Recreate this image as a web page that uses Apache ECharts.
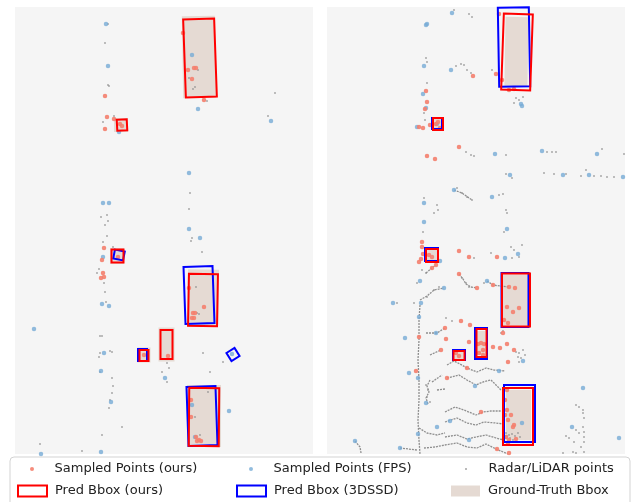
<!DOCTYPE html>
<html>
<head>
<meta charset="utf-8">
<script src="https://cdn.jsdelivr.net/npm/echarts@6/dist/echarts.min.js"></script>
<style>
  html, body { margin: 0; padding: 0; background: #fff; }
  #chart { width: 634px; height: 502px; }
</style>
</head>
<body>
<div id="chart"></div>
<script>
// all positions are in picture pixels of each panel (x to the right, y downwards)

// ---- left panel ----
const leftOurs = [[183,33],[188,70],[194,68],[196,68],[192,79],[204,100],[105,96],[107,117],[114,119],[105,129],[120,124],[122,126],
  [104,248],[102,260],[103,273],[104,277],[101,278],[118,257],[189,288],[204,307],[193,313],[195,313],[192,318],[194,318],
  [144,355],[168,356],[191,400],[191,417],[196,437],[199,440],[197,441],[201,441]]
const leftFps = [[106,24],[108,66],[192,55],[198,109],[271,121],[119,132],[103,203],[109,203],[189,173],[189,229],[200,238],
  [103,257],[102,304],[109,306],[34,329],[104,353],[101,371],[165,378],[111,402],[192,405],[229,411],[232,354],[195,437],
  [41,454],[101,452]]
const leftRaw = [[108,24],[105,43],[108,85],[109,86],[189,78],[193,89],[195,87],[198,70],[275,93],[268,116],[103,122],[114,116],
  [207,101],[101,217],[107,215],[108,221],[105,225],[107,236],[103,242],[113,247],[99,269],[97,273],[104,283],[105,292],
  [106,302],[190,193],[189,209],[192,238],[202,252],[196,287],[191,241],[100,336],[102,336],[100,353],[99,357],[110,351],
  [112,352],[100,372],[112,378],[113,386],[112,393],[110,400],[109,408],[122,427],[102,435],[40,444],[82,451],[203,353],
  [210,372],[223,362],[167,363],[169,368],[162,372],[167,382],[195,417],[200,435],[208,392],[197,313],[199,314]]
// boxes: [cx, cy, width, height, angle in degrees]
const leftGt = [[199,57,33,82,-1],[121,125,14,14,0],[117,256,14,16,0],[203,298,31,57,1],[144,355,13,15,0],
  [166.5,344.5,16,34,0],[204,416,34,62,0]]
const leftPredOurs = [[200,58,31,78,-2],[122,125,10,11,-3],[117.5,256,12,13,0],[203,300,29,52,1],[144,355.5,9,11,0],
  [166.5,344.5,12,29,0],[204,417,30,58,0.5]]
const leftPred3dssd = [[119,255,10,9,11],[199,295,29,57,-2],[142.5,355,9,12,0],[233,354.5,9.5,9.5,-32],[202,416,29,59,-2]]

// ---- right panel ----
const rightOurs = [[499,14],[473,76],[496,74],[502,80],[509,90],[514,89],[426,91],[427,102],[425,109],[419,127],[423,128],
  [430,125],[438,122],[440,128],[436,124],[459,147],[427,156],[435,159],[422,242],[422,247],[423,254],[421,259],[419,262],
  [436,265],[432,268],[429,255],[432,257],[459,251],[469,257],[497,257],[459,274],[477,288],[493,285],[509,287],[515,288],
  [507,307],[519,308],[513,312],[504,320],[508,323],[503,333],[461,321],[470,325],[445,328],[419,337],[446,339],[469,342],
  [441,350],[467,368],[447,378],[416,371],[456,353],[459,356],[481,343],[478,344],[484,344],[483,350],[479,353],[483,355],
  [493,347],[500,348],[507,344],[514,350],[508,362],[507,390],[505,400],[507,410],[505,415],[511,415],[508,420],[514,425],
  [513,427],[506,437],[509,440],[516,439],[508,443],[497,449],[509,453],[481,412]]
const rightFps = [[452,13],[426,25],[427,24],[424,66],[451,70],[423,94],[426,108],[417,127],[437,124],[521,104],[522,106],
  [495,154],[542,151],[597,154],[510,175],[563,175],[589,175],[623,177],[454,190],[492,197],[424,203],[424,222],[507,229],
  [518,254],[505,258],[440,261],[487,281],[420,281],[444,288],[421,303],[393,303],[419,317],[436,333],[405,338],[409,373],
  [418,378],[426,403],[450,421],[437,427],[418,434],[469,440],[355,441],[400,448],[475,386],[523,361],[499,371],[583,388],
  [522,423],[572,427],[619,438],[506,437]]
const rightRaw = [[459,6],[454,10],[469,14],[472,17],[426,58],[427,62],[427,83],[424,113],[425,120],[456,66],[461,64],[464,65],
  [467,70],[471,73],[492,70],[516,98],[514,103],[523,97],[519,100],[547,152],[552,152],[556,152],[602,149],[624,154],
  [466,152],[471,155],[474,156],[506,155],[506,174],[512,178],[544,173],[554,174],[566,174],[581,176],[586,170],[594,176],
  [601,176],[607,177],[614,177],[457,188],[462,193],[467,197],[472,200],[499,195],[503,194],[424,198],[437,205],[434,213],
  [438,210],[506,210],[507,213],[504,232],[511,247],[514,250],[522,245],[519,257],[512,258],[491,253],[474,258],[423,232],
  [426,273],[422,270],[462,278],[466,283],[469,287],[417,283],[427,297],[434,290],[439,287],[397,303],[414,303],[484,283],
  [516,352],[519,353],[523,350],[518,357],[521,358],[525,355],[519,362],[501,333],[503,331],[576,405],[579,407],[583,410],
  [583,413],[584,418],[583,427],[584,432],[584,437],[584,442],[579,433],[576,430],[566,436],[569,438],[574,442],[581,447],
  [584,452],[563,453],[573,452],[576,453],[426,385],[428,390],[427,397],[430,402],[506,433],[509,435],[512,434],[515,436],
  [518,433],[510,438],[513,440],[520,437],[446,318],[452,321]]
// dense LiDAR scan rings, read as polylines
const rightScans = [
  [[420,305],[419,320],[419,340],[418,360],[419,380],[419,400],[418,420],[419,440],[420,454]],
  [[426,333],[437,333],[445,328]],
  [[430,355],[441,350]],
  [[447,365],[454,361],[460,364],[467,368],[477,372],[486,368],[494,370],[505,371]],
  [[447,378],[459,375],[467,380],[476,385],[483,382],[491,380],[496,385],[501,390]],
  [[432,382],[442,375]],
  [[437,390],[445,389]],
  [[430,380],[427,386],[429,392],[426,398],[428,404]],
  [[445,412],[455,407],[464,410],[476,415],[483,412],[491,411],[501,411]],
  [[445,422],[457,418],[467,423],[476,425],[484,422],[496,423],[503,424]],
  [[419,428],[427,433],[437,435],[445,433]],
  [[445,437],[457,435],[467,439],[476,437],[486,435],[496,438],[504,440]],
  [[424,448],[435,447],[445,445],[457,443],[467,447],[477,448],[486,444],[496,449],[508,454]],
  [[400,448],[417,450]],
  [[355,441],[360,447],[361,453]],
  [[454,190],[462,193],[472,200]],
  [[420,300],[427,296],[434,290],[444,288]],
  [[459,274],[463,279],[466,284],[471,287],[477,288]],
  [[487,281],[493,285],[500,286],[509,287]],
  [[426,273],[432,268],[436,265]],
]
const rightGt = [[516.5,51.5,23,69,1],[438,124,10,11,0],[432,255,12,12,0],[515,300,26,51,0],[459,355.5,9,8,0],
  [481,343,8,24,0],[518.5,415,25,50,0]]
const rightPredOurs = [[517,52,29,76,2],[438,124,10,12,0],[432,255.5,12,13,0],[516,300,28,53,0],[459,355.5,11,9,0],
  [481.5,343,10,28,0],[518,416.5,30,57,0]]
const rightPred3dssd = [[514,47,31,79,-1],[437,123.5,10,11,0],[431.5,254.5,13,13,0],[515,300,27,54,0],[459,355,12,10,0],
  [481,343.5,12,31,0],[519.5,413.5,31,57,0]]

const RED_PT = '#f4806e'
const BLUE_PT = '#77abd6'
const GREY_PT = '#8c8c8c'
const GT_FILL = '#e5dad3'

function boxRender(style) {
  return function(params, api) {
    const cx = api.value(0)
    const cy = api.value(1)
    const w = api.value(2)
    const h = api.value(3)
    const a = api.value(4) * Math.PI / 180
    const c = Math.cos(a)
    const s = Math.sin(a)
    const pts = [[-w / 2, -h / 2], [w / 2, -h / 2], [w / 2, h / 2], [-w / 2, h / 2]].map(p =>
      api.coord([cx + p[0] * c - p[1] * s, cy + p[0] * s + p[1] * c]))
    return { type: 'polygon', shape: { points: pts }, style: style }
  }
}

function panelSeries(idx, gt, ours3d, dssd, raw, fps, ours, scans) {
  const axes = { xAxisIndex: idx, yAxisIndex: idx }
  const list = [
    { ...axes, type: 'custom', name: 'Ground-Truth Bbox', z: 1, encode: { x: 0, y: 1 },
      renderItem: boxRender({ fill: GT_FILL }), data: gt },
  ]
  scans.forEach(curve => {
    list.push({ ...axes, type: 'line', z: 2, symbol: 'none', silent: true,
      lineStyle: { color: '#8f8f8f', width: 1.3, type: [2, 1] }, data: curve })
  })
  list.push(
    { ...axes, type: 'scatter', name: 'Radar/LiDAR points', z: 2, symbolSize: 1.8,
      itemStyle: { color: GREY_PT }, data: raw },
    { ...axes, type: 'scatter', name: 'Sampled Points (FPS)', z: 3, symbolSize: 4.5,
      itemStyle: { color: BLUE_PT }, data: fps },
    { ...axes, type: 'scatter', name: 'Sampled Points (ours)', z: 4, symbolSize: 4.5,
      itemStyle: { color: RED_PT, opacity: 0.9 }, data: ours },
    { ...axes, type: 'custom', name: 'Pred Bbox (3DSSD)', z: 5, encode: { x: 0, y: 1 },
      renderItem: boxRender({ fill: 'none', stroke: '#0000ff', lineWidth: 2 }), data: dssd },
    { ...axes, type: 'custom', name: 'Pred Bbox (ours)', z: 6, encode: { x: 0, y: 1 },
      renderItem: boxRender({ fill: 'none', stroke: '#ff0000', lineWidth: 2 }), data: ours3d },
  )
  return list
}

function legendItem(left, top, name, h, style, icon) {
  return {
    left: left, top: top, padding: 0, itemWidth: 29, itemHeight: h, selectedMode: false,
    textStyle: { fontFamily: 'DejaVu Sans', fontSize: 13, color: '#222', lineHeight: 16, padding: [0, 0, 0, 3] },
    data: [{ name: name, icon: icon, itemStyle: style }],
  }
}

const chart = echarts.init(document.getElementById('chart'), null, { renderer: 'canvas' })
const hiddenAxis = { type: 'value', show: false, splitLine: { show: false } }

chart.setOption({
  animation: false,
  grid: [
    { left: 15, top: 7, width: 298, height: 447, show: true, backgroundColor: '#f5f5f5', borderWidth: 0 },
    { left: 327, top: 7, width: 298, height: 447, show: true, backgroundColor: '#f5f5f5', borderWidth: 0 },
  ],
  xAxis: [
    { ...hiddenAxis, gridIndex: 0, min: 15, max: 313 },
    { ...hiddenAxis, gridIndex: 1, min: 327, max: 625 },
  ],
  yAxis: [
    { ...hiddenAxis, gridIndex: 0, min: 7, max: 454, inverse: true },
    { ...hiddenAxis, gridIndex: 1, min: 7, max: 454, inverse: true },
  ],
  graphic: [
    { type: 'rect', z: 0, shape: { x: 10, y: 457, width: 620, height: 50, r: 4 },
      style: { fill: '#fff', stroke: '#d3d3d3', lineWidth: 1 } },
  ],
  legend: [
    legendItem(30, 461, 'Sampled Points (ours)', 4, { color: RED_PT }, 'circle'),
    legendItem(249, 461, 'Sampled Points (FPS)', 4, { color: BLUE_PT }, 'circle'),
    legendItem(465, 461, 'Radar/LiDAR points', 2, { color: GREY_PT }, 'circle'),
    legendItem(17, 483, 'Pred Bbox (ours)', 11, { color: 'rgba(0,0,0,0)', borderColor: '#ff0000', borderWidth: 2 }, 'rect'),
    legendItem(236, 483, 'Pred Bbox (3DSSD)', 11, { color: 'rgba(0,0,0,0)', borderColor: '#0000ff', borderWidth: 2 }, 'rect'),
    legendItem(451, 483, 'Ground-Truth Bbox', 11, { color: GT_FILL, borderWidth: 0 }, 'rect'),
  ],
  series: [
    ...panelSeries(0, leftGt, leftPredOurs, leftPred3dssd, leftRaw, leftFps, leftOurs, []),
    ...panelSeries(1, rightGt, rightPredOurs, rightPred3dssd, rightRaw, rightFps, rightOurs, rightScans),
  ],
})
</script>
</body>
</html>
